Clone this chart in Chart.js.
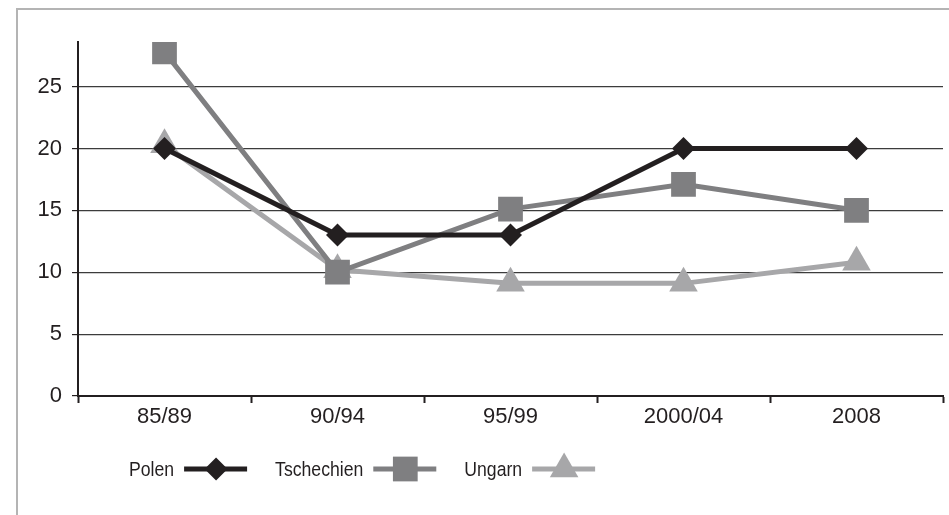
<!DOCTYPE html>
<html>
<head>
<meta charset="utf-8">
<script src="https://cdn.jsdelivr.net/npm/chart.js@4.4.1/dist/chart.umd.min.js"></script>
<style>
    html, body { margin: 0; padding: 0; background: #fff; }
    #wrap { position: relative; width: 949px; height: 515px; overflow: hidden; }
    #frame { position: absolute; left: 16px; top: 8px; width: 940px; height: 520px;
             border-left: 2px solid #b4b4b4; border-top: 2px solid #b4b4b4; }
    #chart { position: absolute; left: 0; top: 0; }
</style>
</head>
<body>
<div id="wrap">
    <div id="frame"></div>
    <canvas id="chart" width="949" height="515"></canvas>
</div>
<script>
const periods = ['85/89', '90/94', '95/99', '2000/04', '2008'];
const polen = [20, 13, 13, 20, 20];
const tschechien = [27.8, 10, 15.1, 17.1, 15];
const ungarn = [20.3, 10.2, 9.1, 9.1, 10.8];
const yTicks = [0, 5, 10, 15, 20, 25];

const FONT = '"Liberation Sans", Arial, sans-serif';

// legend drawn below the axis: label first, then line with marker
// text is squeezed a bit horizontally to look like the narrow original face
const legendBelow = {
    id: 'legendBelow',
    afterDraw(chart) {
        const ctx = chart.ctx;
        const y = 469;
        const squeeze = 0.86;
        let x = 129;
        ctx.save();
        ctx.font = '20.5px ' + FONT;
        ctx.textBaseline = 'middle';
        chart.data.datasets.forEach(function (ds) {
            ctx.save();
            ctx.translate(x, y + 1);
            ctx.scale(squeeze, 1);
            ctx.fillStyle = '#231f20';
            ctx.fillText(ds.label, 0, 0);
            ctx.restore();
            x += ctx.measureText(ds.label).width * squeeze + 10;
            ctx.strokeStyle = ds.borderColor;
            ctx.lineWidth = 5;
            ctx.beginPath();
            ctx.moveTo(x, y);
            ctx.lineTo(x + 63, y);
            ctx.stroke();
            ctx.fillStyle = ds.pointBackgroundColor;
            ctx.strokeStyle = ds.pointBackgroundColor;
            ctx.lineWidth = 0;
            Chart.helpers.drawPoint(ctx, {
                pointStyle: ds.pointStyle,
                radius: ds.pointRadius,
                rotation: 0,
                borderWidth: 0
            }, x + 32, y);
            x += 63 + 28;
        });
        ctx.restore();
    }
};

function series(label, data, color, style, radius) {
    return {
        label: label,
        data: data,
        borderColor: color,
        backgroundColor: color,
        pointBackgroundColor: color,
        pointBorderColor: color,
        pointBorderWidth: 0,
        borderWidth: 5,
        pointStyle: style,
        pointRadius: radius,
        pointHoverRadius: radius,
        tension: 0
    };
}

new Chart(document.getElementById('chart').getContext('2d'), {
    type: 'line',
    data: {
        labels: periods,
        datasets: [
            series('Polen', polen, '#231f20', 'rectRot', 11.5),
            series('Tschechien', tschechien, '#7f7f81', 'rect', 17.5),
            series('Ungarn', ungarn, '#a7a7a9', 'triangle', 16.5)
        ]
    },
    options: {
        responsive: false,
        animation: false,
        devicePixelRatio: 1,
        layout: { autoPadding: false, padding: { left: 0, right: 6, top: 42, bottom: 0 } },
        plugins: {
            legend: { display: false },
            tooltip: { enabled: false }
        },
        scales: {
            x: {
                offset: true,
                afterFit: function (scale) { scale.height = 119; },
                grid: {
                    offset: true,
                    drawOnChartArea: false,
                    drawTicks: true,
                    tickLength: 7,
                    tickWidth: 2,
                    tickColor: '#231f20'
                },
                border: { display: true, color: '#231f20', width: 2 },
                ticks: {
                    color: '#231f20',
                    font: { family: FONT, size: 22 },
                    padding: 1
                }
            },
            y: {
                min: 0,
                max: 28.6,
                afterFit: function (scale) { scale.width = 78; },
                afterBuildTicks: function (scale) {
                    scale.ticks = yTicks.map(function (v) { return { value: v }; });
                },
                grid: {
                    color: '#3c3c3c',
                    lineWidth: 1.2,
                    tickLength: 6,
                    tickColor: '#231f20'
                },
                border: { display: true, color: '#231f20', width: 2 },
                ticks: {
                    color: '#231f20',
                    font: { family: FONT, size: 22 },
                    padding: 10
                }
            }
        }
    },
    plugins: [legendBelow]
});
</script>
</body>
</html>
